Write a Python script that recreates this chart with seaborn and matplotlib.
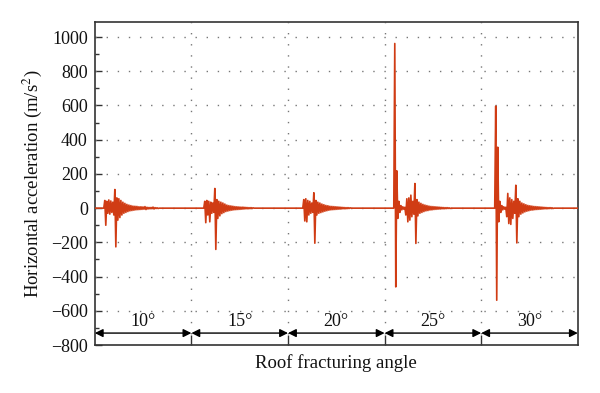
import numpy as np
import pandas as pd
import seaborn as sns
import matplotlib
matplotlib.use("Agg")
import matplotlib.pyplot as plt

# roof fracturing angle per segment
angles = ["10°", "15°", "20°", "25°", "30°"]

# where each burst starts inside its segment (fraction of segment)
burst_start = [0.093, 0.128, 0.153, 0.095, 0.14]
step = 0.0104  # one sample per pixel roughly

# acceleration samples (m/s^2), one list per segment
acc_10 = [0, 45, -100, 40, -30, 48, -35, 42, -25, 35, -40, 109, -226, 60, -70, 55, -55, 45,
          -40, 35, -30, 28, -25, 22, -20, 18, -16, 15, -14, 12, -12, 11, -10, 10, -9, 8, -8,
          8, -7, 7, -6, 9, -8, 5, -5, 4, -4, 4, -3, 6, -5, 3, -2, 2, -2, 0]
acc_15 = [0, 40, -85, 45, -40, 40, -80, 35, -30, 30, -25, 115, -241, 50, -60, 40, -45, 35,
          -32, 30, -26, 24, -20, 18, -17, 15, -14, 13, -12, 11, -10, 9, -9, 8, -8, 7, -7, 6,
          -6, 6, -5, 5, -4, 4, -4, 3, -3, 3, -2, 2, 0]
acc_20 = [0, 50, -75, 55, -80, 45, -40, 40, -30, 30, -25, 90, -205, 45, -40, 35, -30, 30,
          -26, 24, -22, 20, -18, 16, -15, 14, -12, 11, -10, 10, -9, 9, -8, 8, -7, 7, -6, 6,
          -5, 5, -4, 4, -4, 3, -3, 3, -2, 2, 0]
acc_25 = [0, 962, -460, 218, -60, 40, -25, 15, -10, 8, -6, 5, -40, 55, -80, 60, -70, 76,
          -50, 40, -35, 144, -206, 50, -45, 35, -30, 28, -25, 22, -20, 18, -16, 15, -14, 12,
          -11, 10, -10, 9, -8, 8, -7, 7, -6, 6, -5, 5, -4, 4, -4, 3, -3, 3, -2, 2, -2, 0]
acc_30 = [0, 596, -538, 356, -80, 40, -25, 15, -10, 8, -6, 5, -50, 86, -90, 60, -95, 50,
          -60, 40, -30, 134, -203, 55, -50, 40, -35, 30, -28, 25, -22, 20, -18, 16, -15, 14,
          -12, 12, -11, 10, -9, 9, -8, 8, -7, 7, -6, 6, -5, 5, -4, 4, -4, 3, -3, 3, -2, 2, -2, 0]
bursts = [acc_10, acc_15, acc_20, acc_25, acc_30]

rows = []
for k, vals in enumerate(bursts):
    rows.append((k + 0.0, 0.0))
    for i, v in enumerate(vals):
        rows.append((k + burst_start[k] + i * step, v))
    rows.append((k + 1.0, 0.0))
df = pd.DataFrame(rows, columns=["x", "acc"])

sns.set_theme(style="white")
plt.rcParams["font.family"] = ["Liberation Serif", "DejaVu Serif"]
plt.rcParams["mathtext.fontset"] = "stix"

fig = plt.figure(figsize=(6.0, 3.93), dpi=100)
ax = fig.add_axes([0.158, 0.122, 0.805, 0.823])

sns.lineplot(data=df, x="x", y="acc", ax=ax, color="#d03c14", linewidth=1.2,
             estimator=None, sort=False, zorder=3)

ax.set_xlim(0, 5)
ax.set_ylim(-800, 1090)

grid_kw = dict(color="#777777", linewidth=1.0, linestyle=(0, (1, 7)), zorder=1)
for y in range(-600, 1001, 200):
    ax.axhline(y, **grid_kw)
for x in range(1, 5):
    ax.axvline(x, **grid_kw)

ax.set_yticks(np.arange(-800, 1001, 200))
ax.set_yticks(np.arange(-800, 1001, 100), minor=True)
ax.set_xticks([1, 2, 3, 4])
ax.set_xticklabels([])
ax.tick_params(axis="y", which="major", direction="in", length=5, width=1,
               color="#333333", labelsize=13, pad=5, left=True, labelcolor="#111111")
ax.tick_params(axis="y", which="minor", direction="in", length=3, width=1,
               color="#333333", left=True)
ax.tick_params(axis="x", which="major", direction="in", length=7, width=1,
               color="#333333", bottom=True)

for sp in ax.spines.values():
    sp.set_color("#333333")
    sp.set_linewidth(1.2)

# segment arrows with angle labels
for k, lab in enumerate(angles):
    ax.annotate("", xy=(k + 1, -730), xytext=(k, -730),
                arrowprops=dict(arrowstyle="<|-|>", color="black", lw=1.0,
                                mutation_scale=12, shrinkA=0, shrinkB=0), zorder=4)
    ax.text(k + 0.5, -662, lab, ha="center", va="center", fontsize=13, color="#111111")

ax.set_xlabel("Roof fracturing angle", fontsize=13.5, labelpad=3, color="#111111")
ax.set_ylabel("Horizontal acceleration (m/s$^2$)", fontsize=13.5, labelpad=5, color="#111111")

fig.savefig("out.png", dpi=100)
